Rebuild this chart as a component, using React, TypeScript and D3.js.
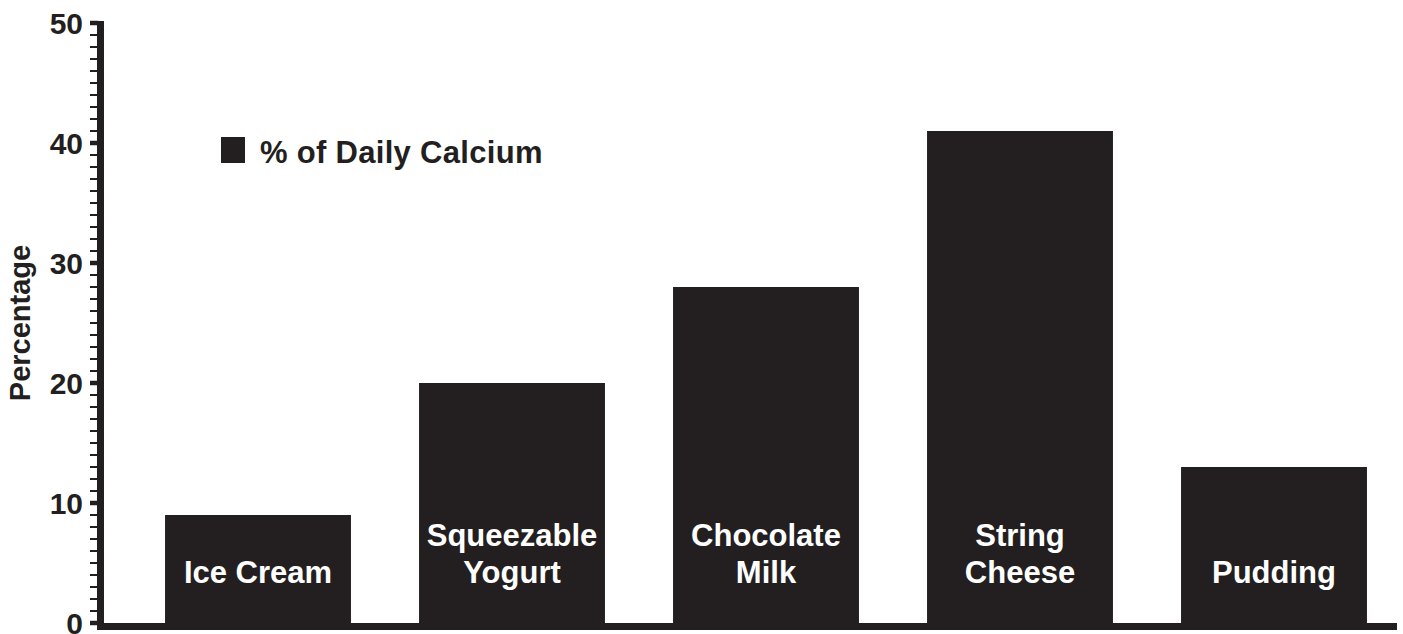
import React from "react";
import * as d3 from "d3";

const categories = ["Ice Cream", "Squeezable Yogurt", "Chocolate Milk", "String Cheese", "Pudding"];
const labelLines = [["Ice Cream"], ["Squeezable", "Yogurt"], ["Chocolate", "Milk"], ["String", "Cheese"], ["Pudding"]];
const values = [9, 20, 28, 41, 13];
const majorTicks = [0, 10, 20, 30, 40, 50];
const seriesName = "% of Daily Calcium";
const yTitle = "Percentage";

const W = 1403;
const H = 634;
const INK = "#231f20";
const FONT = "'Liberation Sans', Arial, Helvetica, sans-serif";

export default function App() {
  const y = d3.scaleLinear().domain([0, 50]).range([623, 23]);
  const x = d3.scaleBand<string>().domain(categories).range([131, 1401]).paddingInner(0.268).paddingOuter(0.134);
  const minorTicks = d3.range(0, 51, 1);
  const axisX = 100.5;
  const bw = x.bandwidth();

  return (
    <svg width={W} height={H} style={{ position: "absolute", left: 0, top: 0, display: "block", background: "#fff" }}>
      {categories.map((c, i) => (
        <rect key={c} x={x(c)} y={y(values[i])} width={bw} height={y(0) - y(values[i])} fill={INK} />
      ))}
      {categories.map((c, i) => {
        const lines = labelLines[i];
        const cx = (x(c) as number) + bw / 2;
        const base = lines.length === 1 ? 583 : 546;
        return (
          <text key={"l" + c} x={cx} textAnchor="middle" fill="#fff" fontFamily={FONT} fontWeight="bold" fontSize={31}>
            {lines.map((ln, j) => (
              <tspan key={j} x={cx} y={base + j * 37}>{ln}</tspan>
            ))}
          </text>
        );
      })}
      {minorTicks.map((t) => {
        const major = t % 10 === 0;
        return (
          <line key={"t" + t} x1={90} x2={98} y1={y(t)} y2={y(t)} stroke={INK} strokeWidth={major ? 4.5 : 2} />
        );
      })}
      <line x1={axisX} x2={axisX} y1={y(50) - 2} y2={630} stroke={INK} strokeWidth={7} />
      <line x1={97} x2={1397} y1={626.5} y2={626.5} stroke={INK} strokeWidth={7} />
      {majorTicks.map((t) => (
        <text key={"yl" + t} x={83} y={y(t)} dy="0.36em" textAnchor="end" fill={INK} fontFamily={FONT} fontWeight="bold" fontSize={30}>
          {t}
        </text>
      ))}
      <text transform={`translate(30, ${y(25)}) rotate(-90)`} textAnchor="middle" fill={INK} fontFamily={FONT} fontWeight="bold" fontSize={29}>
        {yTitle}
      </text>
      <rect x={221} y={137} width={24} height={26} fill={INK} />
      <text x={260} y={163} fill={INK} fontFamily={FONT} fontWeight="bold" fontSize={31} letterSpacing={0.3}>
        {seriesName}
      </text>
    </svg>
  );
}
